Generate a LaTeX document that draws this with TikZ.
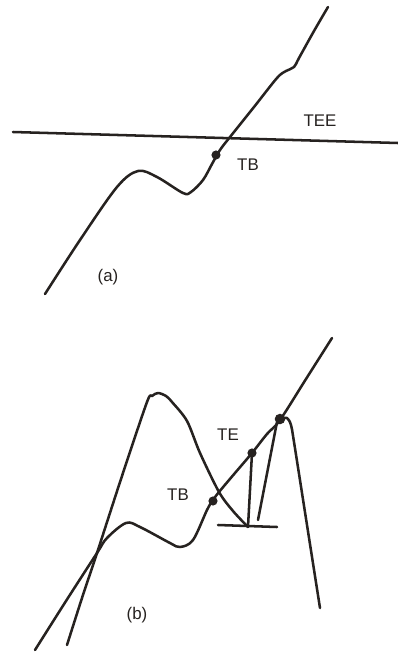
\documentclass[tikz,border=0pt]{standalone}
\usepackage{fontspec}
\setmainfont{Liberation Sans}
\usetikzlibrary{positioning}
\definecolor{sketchink}{HTML}{262220}
\tikzset{
  curve/.style={draw=sketchink, line width=1.8pt, line cap=round, line join=round},
  dotmark/.style={circle, fill=sketchink, inner sep=0pt, minimum size=6.5pt},
  lbl/.style={text=sketchink, inner sep=0pt, font=\fontsize{12}{14}\selectfont}
}

\begin{document}
\begin{tikzpicture}[x=0.025cm, y=-0.025cm]
    \useasboundingbox (0,0) rectangle (398,653);

    % (a)
    \coordinate (leftA) at (13,132);
    \coordinate (rightA) at (398,143);
    \draw[curve] (leftA) -- (rightA);
    \draw[curve] plot[smooth, tension=0.55] coordinates
      {(45,294) (80,240) (117,187) (138,171) (157,177) (183,193) (191,192) (203,180) (212,164) (220,150) (230,137)
       (254,107) (277,78) (286,71) (294,67) (299,58) (314,31) (328,7)};
    \node[dotmark] (tbA) at (216,155) {};
    \node[lbl] (tbAlabel) at (248,165) {TB};
    \node[lbl] (tee) at (320,121) {TEE};
    \node[lbl] (capA) at (108,277) {(a)};

    % (b)
    \draw[curve] plot[smooth, tension=0.55] coordinates
      {(35,650) (66,601) (97,553) (107,538) (126,523) (140,527) (170,543) (180,547) (193,540) (207,510)
       (213,500) (219,492) (235,473) (252,453) (267,434) (280,420) (306,379) (332,338)};
    \draw[curve] plot[smooth, tension=0.5] coordinates
      {(67,645) (82,598) (97,553) (122,476) (147,402) (152,396) (158,393) (166,396) (172,402) (187,421)
       (200,453) (219,492) (233,511) (248,527)};
    \coordinate (shelfL) at (218,525);
    \coordinate (shelfR) at (277,527);
    \coordinate (bot) at (248,527);
    \coordinate (foot) at (258,520);
    \coordinate (top) at (280,419);
    \draw[curve] (shelfL) -- (shelfR);
    \node[dotmark] (te) at (252,453) {};
    \node[dotmark] (tbB) at (213,501) {};
    \node[dotmark, minimum size=7.5pt] (topdot) at (top) {};
    \draw[curve] (bot) -- (te.center);
    \draw[curve] (foot) -- (277,422);
    \draw[curve] plot[smooth, tension=0.5] coordinates
      {(280,419) (287,418) (291,425) (294,442) (307,525) (320,608)};
    \node[lbl] (teLabel) at (228,435) {TE};
    \node[lbl] (tbLabel) at (178,495) {TB};
    \node[lbl] (capB) at (137,615) {(b)};
\end{tikzpicture}
\end{document}
